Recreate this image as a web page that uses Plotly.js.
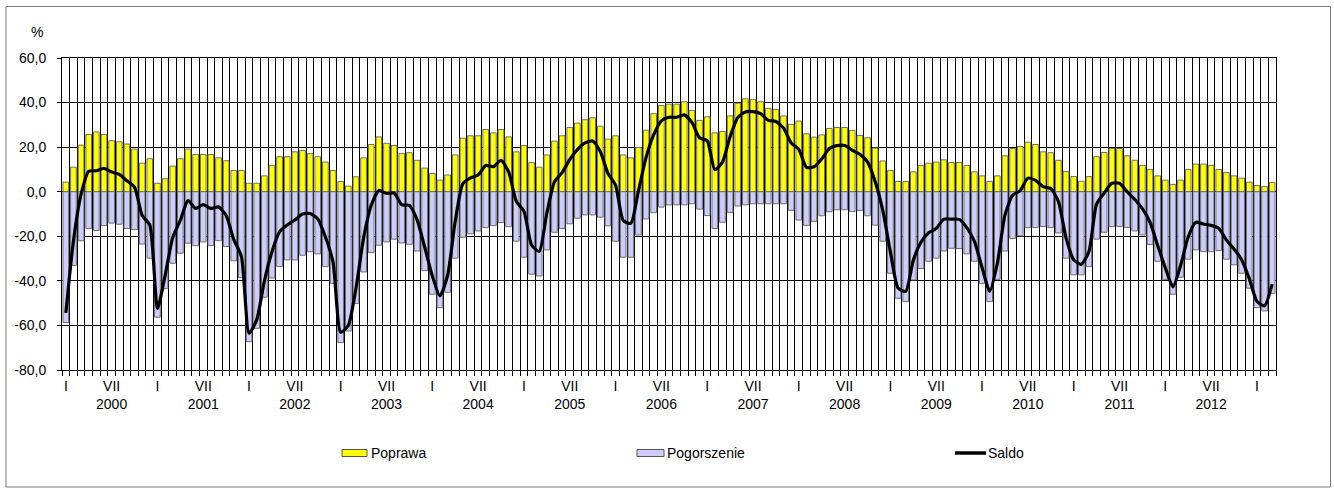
<!DOCTYPE html>
<html>
<head>
<meta charset="utf-8">
<script src="https://cdn.plot.ly/plotly-3.0.1.min.js"></script>
<style>
html,body{margin:0;padding:0;background:#fff;}
#chart{width:1334px;height:490px;}
</style>
</head>
<body>
<div id="chart"></div>
<script>
// ---- data ----
const years = [2000,2001,2002,2003,2004,2005,2006,2007,2008,2009,2010,2011,2012,2013];
const monthNumerals = ['I','II','III','IV','V','VI','VII','VIII','IX','X','XI','XII'];
const lastYearMonths = 3; // Jan-Mar 2013

const poprawa = [
 4.3,11.0,20.9,25.7,26.8,25.7,22.9,22.4,21.4,19.1,12.8,14.8,
 3.8,5.8,11.5,14.8,19.1,16.7,16.7,16.7,15.2,13.9,9.5,9.5,
 3.8,3.8,7.1,11.8,15.7,15.7,17.9,18.5,17.1,15.7,13.3,9.5,
 4.6,2.5,6.7,15.2,21.2,24.6,21.7,20.7,17.1,17.5,14.1,10.6,
 8.2,5.2,7.5,16.5,24.0,25.1,25.1,27.9,26.4,27.9,24.6,17.9,
 20.7,13.1,11.0,16.5,22.7,25.1,28.8,30.8,32.3,33.2,29.4,23.6,
 25.1,16.5,15.2,19.8,27.6,35.0,38.7,39.3,39.3,40.4,36.5,32.0,
 33.6,26.4,27.0,34.0,39.7,41.7,41.3,40.4,37.4,36.9,34.0,30.2,
 31.7,26.0,24.5,25.5,28.4,28.8,28.8,27.5,25.2,24.2,19.6,13.8,
 9.5,4.6,4.6,8.9,11.8,12.8,13.3,14.3,13.1,13.1,11.8,8.9,
 7.1,4.6,7.1,16.1,19.4,20.3,22.2,21.2,17.9,17.5,14.1,9.1,
 6.8,4.7,6.8,15.7,17.6,19.4,19.4,16.1,14.1,11.8,10.0,7.1,
 5.2,3.3,5.2,10.0,12.4,12.4,11.8,10.0,8.6,7.1,6.1,4.3,
 2.8,2.3,4.1
];
const pogorszenie = [
 -58.7,-33.1,-22.0,-16.5,-17.4,-15.2,-14.1,-14.6,-16.5,-17.0,-23.5,-29.8,
 -56.3,-43.5,-32.1,-27.6,-23.1,-24.2,-22.5,-24.2,-22.0,-24.6,-31.0,-38.6,
 -67.3,-61.3,-47.3,-38.7,-33.6,-30.6,-30.6,-28.5,-26.9,-27.9,-33.6,-41.1,
 -67.7,-62.5,-50.1,-36.0,-27.3,-24.0,-22.5,-21.3,-23.0,-23.6,-26.6,-35.4,
 -46.0,-52.0,-45.1,-29.8,-20.4,-18.9,-17.6,-16.1,-15.2,-13.8,-15.7,-22.2,
 -29.4,-37.0,-37.8,-26.1,-18.2,-16.5,-14.4,-11.9,-10.4,-10.4,-11.4,-15.3,
 -22.2,-29.4,-29.4,-19.4,-12.2,-9.4,-6.9,-5.9,-5.9,-5.9,-5.4,-7.8,
 -10.7,-16.5,-13.7,-9.3,-6.4,-5.9,-5.4,-5.4,-5.4,-5.4,-5.4,-8.3,
 -12.7,-15.1,-13.3,-10.8,-9.0,-8.1,-8.1,-8.9,-8.4,-10.8,-15.0,-22.2,
 -36.6,-47.8,-49.3,-39.6,-34.5,-31.2,-29.8,-26.6,-25.4,-25.5,-27.9,-31.2,
 -41.1,-49.3,-39.3,-26.6,-21.0,-19.8,-16.1,-16.1,-15.6,-16.1,-18.5,-29.8,
 -37.3,-37.3,-33.6,-21.3,-18.2,-15.6,-15.6,-16.1,-17.6,-19.4,-23.7,-31.2,
 -39.3,-46.0,-38.4,-30.3,-26.1,-26.9,-26.9,-26.4,-30.3,-32.8,-36.6,-43.3,
 -52.0,-53.5,-45.6
];
const saldo = [
 -54.4,-22.1,-1.1,9.2,9.4,10.5,8.8,7.8,4.9,2.1,-10.7,-15.0,
 -52.5,-37.7,-20.6,-12.8,-4.0,-7.5,-5.8,-7.5,-6.8,-10.7,-21.5,-29.1,
 -63.5,-57.5,-40.2,-26.9,-17.9,-14.9,-12.7,-10.0,-9.8,-12.2,-20.3,-31.6,
 -63.1,-60.0,-43.4,-20.8,-6.1,0.6,-0.8,-0.6,-5.9,-6.1,-12.5,-24.8,
 -37.8,-46.8,-37.6,-13.3,3.6,6.2,7.5,11.8,11.2,14.1,8.9,-4.3,
 -8.7,-23.9,-26.8,-9.6,4.5,8.6,14.4,18.9,21.9,22.8,18.0,8.3,
 2.9,-12.9,-14.2,0.4,15.4,25.6,31.8,33.4,33.4,34.5,31.1,24.2,
 22.9,9.9,13.3,24.7,33.3,35.8,35.9,35.0,32.0,31.5,28.6,21.9,
 19.0,10.9,11.2,14.7,19.4,20.7,20.7,18.6,16.8,13.4,4.6,-8.4,
 -27.1,-43.2,-44.7,-30.7,-22.7,-18.4,-16.5,-12.3,-12.3,-12.4,-16.1,-22.3,
 -34.0,-44.7,-32.2,-10.5,-1.6,0.5,6.1,5.1,2.3,1.4,-4.4,-20.7,
 -30.5,-32.6,-26.8,-5.6,-0.6,3.8,3.8,0.0,-3.5,-7.6,-13.7,-24.1,
 -34.1,-42.7,-33.2,-20.3,-13.7,-14.5,-15.1,-16.4,-21.7,-25.7,-30.5,-39.0,
 -49.2,-51.2,-41.5
];
const yTickVals = [-80,-60,-40,-20,0,20,40,60];
const yTickText = ['-80,0','-60,0','-40,0','-20,0','0,0','20,0','40,0','60,0'];
const seriesNames = ['Poprawa','Pogorszenie','Saldo'];

// ---- categories ----
const months = [];
years.forEach((y, yi) => {
  const n = (yi === years.length - 1) ? lastYearMonths : 12;
  for (let m = 0; m < n; m++) months.push(y + '-' + monthNumerals[m]);
});

// tick labels: I at January, VII + year at July
const xTickVals = [], xTickText = [];
years.forEach(y => {
  const jan = y + '-I', jul = y + '-VII';
  if (months.includes(jan)) { xTickVals.push(jan); xTickText.push('I'); }
  if (months.includes(jul)) { xTickVals.push(jul); xTickText.push('VII<br>' + y); }
});
const boundaries = [];
for (let i = 0; i <= months.length; i++) boundaries.push(i - 0.5);

// ---- geometry helpers (pixels -> paper) ----
const M = {l: 62, r: 58, t: 58, b: 120};
const PW = 1334 - M.l - M.r, PH = 490 - M.t - M.b;
const px = v => (v - M.l) / PW;
const py = v => (490 - M.b - v) / PH;

const FONT = 'Liberation Sans, Arial, Helvetica, sans-serif';
const barLine = {color: '#6e6e6e', width: 1};

const traces = [
  {type: 'bar', x: months, y: poprawa, name: seriesNames[0], width: 0.74,
   marker: {color: '#ffff00', line: barLine}, hoverinfo: 'x+y'},
  {type: 'bar', x: months, y: pogorszenie, name: seriesNames[1], width: 0.74,
   marker: {color: '#ccccff', line: barLine}, hoverinfo: 'x+y'},
  {type: 'scatter', mode: 'lines', x: months, y: saldo, name: seriesNames[2],
   line: {color: '#000', width: 3.2, shape: 'spline', smoothing: 0.6}}
];

// manual legend
const legY = 453;
const shapes = [
  // outer frame
  {type: 'rect', xref: 'paper', yref: 'paper', x0: px(6), x1: px(1330.5), y0: py(6.5), y1: py(487),
   line: {color: '#7a7a7a', width: 1}, fillcolor: 'rgba(0,0,0,0)', layer: 'below'},
  {type: 'rect', xref: 'paper', yref: 'paper', x0: px(342), x1: px(367), y0: py(legY - 3.5), y1: py(legY + 3.5),
   line: {color: '#555', width: 1}, fillcolor: '#ffff00'},
  {type: 'rect', xref: 'paper', yref: 'paper', x0: px(637), x1: px(664), y0: py(legY - 3.5), y1: py(legY + 3.5),
   line: {color: '#555', width: 1}, fillcolor: '#ccccff'},
  {type: 'line', xref: 'paper', yref: 'paper', x0: px(955), x1: px(986), y0: py(legY), y1: py(legY),
   line: {color: '#000', width: 3.5}}
];
const annotations = [
  {xref: 'paper', yref: 'paper', x: px(37), y: py(32), text: '%', showarrow: false,
   xanchor: 'center', yanchor: 'middle', font: {family: FONT, size: 14, color: '#000'}},
  {xref: 'paper', yref: 'paper', x: px(369), y: py(legY), text: seriesNames[0], showarrow: false,
   xanchor: 'left', yanchor: 'middle', font: {family: FONT, size: 14, color: '#000'}},
  {xref: 'paper', yref: 'paper', x: px(665), y: py(legY), text: seriesNames[1], showarrow: false,
   xanchor: 'left', yanchor: 'middle', font: {family: FONT, size: 14, color: '#000'}},
  {xref: 'paper', yref: 'paper', x: px(986), y: py(legY), text: seriesNames[2], showarrow: false,
   xanchor: 'left', yanchor: 'middle', font: {family: FONT, size: 14, color: '#000'}}
];

const layout = {
  width: 1334, height: 490,
  margin: M,
  paper_bgcolor: '#fff', plot_bgcolor: '#fff',
  barmode: 'relative',
  showlegend: false,
  font: {family: FONT, size: 14, color: '#000'},
  xaxis: {
    type: 'category', categoryorder: 'array', categoryarray: months,
    range: [-0.5, months.length - 0.5],
    tickmode: 'array', tickvals: xTickVals, ticktext: xTickText,
    ticks: '', showgrid: false, zeroline: false,
    showline: true, linecolor: '#000', linewidth: 1, mirror: true,
    ticklabelstandoff: 3,
    tickfont: {family: FONT, size: 14, color: '#000'}
  },
  xaxis2: {
    overlaying: 'x', anchor: 'y', side: 'bottom',
    range: [-0.5, months.length - 0.5],
    tickmode: 'array', tickvals: boundaries,
    showticklabels: false, ticks: 'outside', ticklen: 5, tickcolor: '#000', tickwidth: 1,
    showgrid: true, gridcolor: '#000', gridwidth: 1, zeroline: false, showline: false
  },
  yaxis: {
    range: [-80, 60],
    tickmode: 'array', tickvals: yTickVals, ticktext: yTickText,
    ticks: 'outside', ticklen: 4, tickcolor: '#000',
    showgrid: true, gridcolor: '#000', gridwidth: 1, zeroline: false,
    showline: true, linecolor: '#000', linewidth: 1, mirror: true,
    ticklabelstandoff: 8,
    tickfont: {family: FONT, size: 14, color: '#000'}
  },
  shapes: shapes,
  annotations: annotations
};

// invisible helper trace so the boundary axis (ticks + vertical grid) is drawn
traces.push({type: 'scatter', x: [-0.5, months.length - 0.5], y: [0, 0], xaxis: 'x2', yaxis: 'y',
  mode: 'markers', marker: {opacity: 0}, hoverinfo: 'skip', showlegend: false});

Plotly.newPlot('chart', traces, layout, {staticPlot: true, displayModeBar: false});
</script>
</body>
</html>
